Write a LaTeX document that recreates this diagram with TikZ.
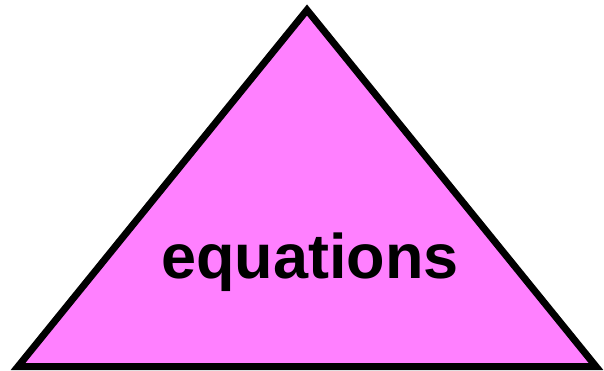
\documentclass[tikz,border=0pt]{standalone}
\usepackage{fontspec}
\setmainfont{Liberation Sans}
\usepackage{tikz}
\usetikzlibrary{positioning,calc}
\definecolor{pyramidpink}{RGB}{255, 128, 255}

\begin{document}
\begin{tikzpicture}[
    x=1pt, y=1pt,
    pyramid/.style={draw=black, fill=pyramidpink, line width=7pt, line join=miter},
    label/.style={font=\fontsize{63}{72}\selectfont\bfseries, anchor=base, inner sep=0pt}
]
    \useasboundingbox (0,0) rectangle (604,370);
    \coordinate (top) at (307,360);
    \coordinate (left) at (18,3.5);
    \coordinate (right) at (596,3.5);
    \draw[pyramid] (left) -- (top) -- (right) -- cycle;
    \node[label] (eq) at (310,92) {equations};
\end{tikzpicture}
\end{document}
